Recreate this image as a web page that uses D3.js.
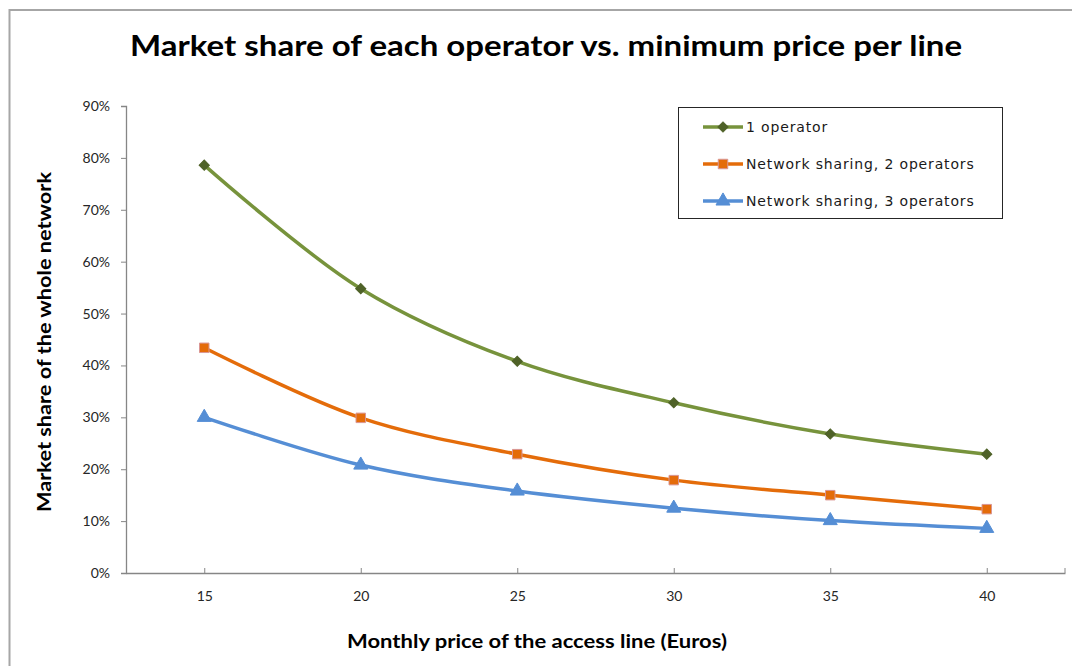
<!DOCTYPE html>
<html>
<head>
<meta charset="utf-8">
<script src="https://cdn.jsdelivr.net/npm/d3@7"></script>
<style>
  body { margin: 0; background: #fff; }
  svg { display: block; }
</style>
</head>
<body>
<script>
const width = 1072;
const height = 666;

// data
const prices = [15, 20, 25, 30, 35, 40];
const yTicks = [0, 0.1, 0.2, 0.3, 0.4, 0.5, 0.6, 0.7, 0.8, 0.9];
const seriesNames = ["1 operator", "Network sharing, 2 operators", "Network sharing, 3 operators"];
const oneOperator = [0.786, 0.548, 0.408, 0.328, 0.268, 0.229];
const twoOperators = [0.434, 0.299, 0.229, 0.179, 0.150, 0.123];
const threeOperators = [0.300, 0.208, 0.158, 0.125, 0.101, 0.086];

const series = [
  {name: seriesNames[0], values: oneOperator, color: "#77933C", marker: "diamond", fill: "#4F6228", stroke: "#4F6228"},
  {name: seriesNames[1], values: twoOperators, color: "#E46C0A", marker: "square", fill: "#E46C0A", stroke: "#D99694"},
  {name: seriesNames[2], values: threeOperators, color: "#558ED5", marker: "triangle", fill: "#558ED5", stroke: "#558ED5"}
];

const svg = d3.select("body")
  .append("svg")
  .attr("width", width)
  .attr("height", height);

// outer chart border (right/bottom edges fall outside the picture)
svg.append("rect")
  .attr("x", 9.5)
  .attr("y", 10)
  .attr("width", 1200)
  .attr("height", 800)
  .attr("fill", "#fff")
  .attr("stroke", "#a6a6a6")
  .attr("stroke-width", 2);

const plot = {left: 126, right: 1065, top: 106, bottom: 573};

const x = d3.scalePoint()
  .domain(prices)
  .range([plot.left, plot.right])
  .padding(0.5);

const y = d3.scaleLinear()
  .domain([0, 0.9])
  .range([plot.bottom, plot.top]);

// title
svg.append("text")
  .attr("x", 546)
  .attr("y", 56)
  .attr("text-anchor", "middle")
  .attr("font-family", "Lato, sans-serif")
  .attr("font-weight", "bold")
  .attr("font-size", 29)
  .attr("textLength", 832)
  .attr("lengthAdjust", "spacingAndGlyphs")
  .attr("fill", "#000")
  .text("Market share of each operator vs. minimum price per line");

// y axis
const yAxis = svg.append("g")
  .attr("transform", `translate(${plot.left},0)`)
  .call(d3.axisLeft(y).tickValues(yTicks).tickFormat(d3.format(".0%")).tickSize(5).tickPadding(11));
yAxis.select(".domain").attr("stroke", "#868686").attr("stroke-width", 1.3);
yAxis.selectAll(".tick line").attr("stroke", "#868686");
yAxis.selectAll(".tick text")
  .attr("font-family", "Lato, sans-serif")
  .attr("font-size", 14)
  .attr("fill", "#262626");

// x axis
const xAxis = svg.append("g")
  .attr("transform", `translate(0,${plot.bottom})`)
  .call(d3.axisBottom(x).tickSize(-5).tickPadding(18).tickSizeOuter(0));
xAxis.select(".domain").attr("stroke", "#868686").attr("stroke-width", 1.3);
xAxis.selectAll(".tick line").attr("stroke", "#868686");
xAxis.selectAll(".tick text")
  .attr("font-family", "Lato, sans-serif")
  .attr("font-size", 14)
  .attr("fill", "#262626");
xAxis.append("line")
  .attr("x1", plot.right).attr("x2", plot.right)
  .attr("y1", 0).attr("y2", -5)
  .attr("stroke", "#868686");

// axis titles
svg.append("text")
  .attr("transform", "translate(51,342) rotate(-90)")
  .attr("text-anchor", "middle")
  .attr("font-family", "Lato, sans-serif")
  .attr("font-weight", "bold")
  .attr("font-size", 18)
  .attr("textLength", 340)
  .attr("lengthAdjust", "spacingAndGlyphs")
  .text("Market share of the whole network");

svg.append("text")
  .attr("x", 537)
  .attr("y", 648)
  .attr("text-anchor", "middle")
  .attr("font-family", "Lato, sans-serif")
  .attr("font-weight", "bold")
  .attr("font-size", 18)
  .attr("textLength", 380)
  .attr("lengthAdjust", "spacingAndGlyphs")
  .text("Monthly price of the access line (Euros)");

// lines
const line = d3.line()
  .x((d, i) => x(prices[i]))
  .y(d => y(d))
  .curve(d3.curveCatmullRom.alpha(0.5));

const symbolFor = {
  diamond: d3.symbol().type(d3.symbolSquare).size(52),
  square: d3.symbol().type(d3.symbolSquare).size(90),
  triangle: d3.symbol().type(d3.symbolTriangle).size(85)
};
const rotateFor = {diamond: 45, square: 0, triangle: 0};

series.forEach(s => {
  svg.append("path")
    .datum(s.values)
    .attr("d", line)
    .attr("fill", "none")
    .attr("stroke", s.color)
    .attr("stroke-width", 3.5)
    .attr("stroke-linejoin", "round");

  svg.selectAll(null)
    .data(s.values)
    .enter()
    .append("path")
    .attr("transform", (d, i) => `translate(${x(prices[i])},${y(d)}) rotate(${rotateFor[s.marker]})`)
    .attr("d", symbolFor[s.marker])
    .attr("fill", s.fill)
    .attr("stroke", s.stroke)
    .attr("stroke-width", 1);
});

// legend
const legend = svg.append("g");
legend.append("rect")
  .attr("x", 678.5)
  .attr("y", 107.5)
  .attr("width", 324)
  .attr("height", 111)
  .attr("fill", "#fff")
  .attr("stroke", "#262626")
  .attr("stroke-width", 1);

const legendY = d3.scalePoint().domain(seriesNames).range([127, 201]);

series.forEach(s => {
  const ly = legendY(s.name);
  legend.append("line")
    .attr("x1", 703).attr("x2", 743)
    .attr("y1", ly).attr("y2", ly)
    .attr("stroke", s.color)
    .attr("stroke-width", 3.5);
  legend.append("path")
    .attr("transform", `translate(723,${ly}) rotate(${rotateFor[s.marker]})`)
    .attr("d", symbolFor[s.marker])
    .attr("fill", s.fill)
    .attr("stroke", s.stroke);
  legend.append("text")
    .attr("x", 746)
    .attr("y", ly)
    .attr("dy", "0.35em")
    .attr("font-family", "DejaVu Sans, sans-serif")
    .attr("font-size", 14)
    .attr("letter-spacing", 0.85)
    .attr("fill", "#1a1a1a")
    .text(s.name);
});
</script>
</body>
</html>
